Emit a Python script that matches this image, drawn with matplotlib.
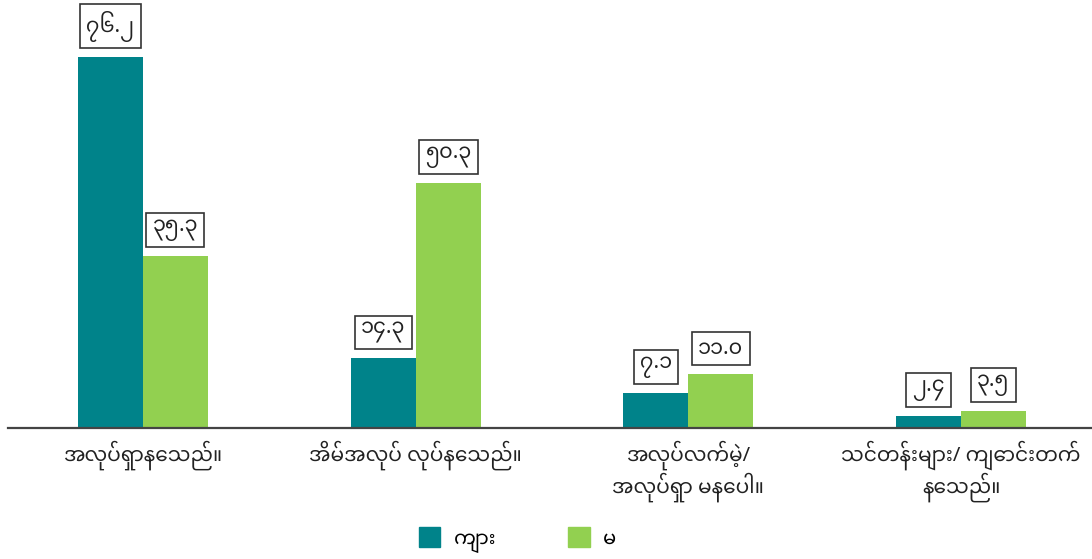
import matplotlib
matplotlib.use('Agg')
import matplotlib.pyplot as plt
from matplotlib.patches import Patch
import numpy as np

categories = ['အလုပ်ရှာနေသည်။', 'အိမ်အလုပ် လုပ်နေသည်။',
              'အလုပ်လက်မဲ့/\nအလုပ်ရှာ မနေပါ။', 'သင်တန်းများ/ ကျောင်းတက်\nနေသည်။']
series_names = ['ကျား', 'မ']
male = [76.2, 14.3, 7.1, 2.4]
female = [35.3, 50.3, 11.0, 3.5]
male_labels = ['၇၆.၂', '၁၄.၃', '၇.၁', '၂.၄']
female_labels = ['၃၅.၃', '၅၀.၃', '၁၁.၀', '၃.၅']

teal = '#00838a'
green = '#92d050'

plt.rcParams['font.family'] = ['Noto Sans Myanmar', 'DejaVu Sans']

fig = plt.figure(figsize=(10.92, 5.59), dpi=100)
ax = fig.add_axes([8 / 1092, 1 - 428 / 559, 1084 / 1092, 414 / 559])

x = np.arange(len(categories))
w = 0.238
b1 = ax.bar(x - w / 2, male, w, color=teal)
b2 = ax.bar(x + w / 2, female, w, color=green)

box = dict(boxstyle='square,pad=0.3', fc='white', ec='#333333', lw=1.2)
for bars, labs in ((b1, male_labels), (b2, female_labels)):
    for r, t in zip(bars, labs):
        ax.annotate(t, (r.get_x() + r.get_width() / 2, r.get_height()),
                    xytext=(0, 11), textcoords='offset points',
                    ha='center', va='bottom', fontsize=15, color='#222222',
                    bbox=box)

ax.set_xlim(-0.495, 3.48)
ax.set_ylim(0, 85)
for s in ('top', 'right', 'left'):
    ax.spines[s].set_visible(False)
ax.spines['bottom'].set_color('#444444')
ax.spines['bottom'].set_linewidth(1.6)
ax.set_yticks([])
ax.set_xticks(x)
ax.set_xticklabels(categories, fontsize=14.5, color='#222222', linespacing=1.1)
ax.tick_params(axis='x', length=0, pad=9)

handles = [Patch(color=teal), Patch(color=green)]
fig.legend(handles, series_names, loc='lower center', ncol=2, frameon=False,
           bbox_to_anchor=(0.474, -0.02), fontsize=14, handlelength=1.1,
           handleheight=1.2, columnspacing=3.7, handletextpad=0.7)

fig.savefig('out.png', dpi=100)
